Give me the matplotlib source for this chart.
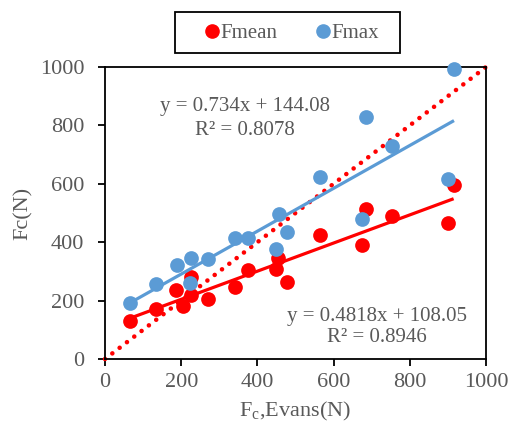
import matplotlib
matplotlib.use("Agg")
import matplotlib.pyplot as plt
import numpy as np
from matplotlib.lines import Line2D
from matplotlib.patches import Rectangle

# Data
evans_mean = [66, 134, 186, 204, 226, 226, 270, 340, 375, 448, 455, 478, 563, 675, 686, 752, 899, 915]
fmean = [131, 170, 236, 183, 280, 219, 205, 248, 305, 309, 345, 262, 426, 391, 515, 490, 467, 597]

evans_max = [66, 135, 188, 222, 226, 270, 340, 375, 448, 456, 478, 563, 675, 685, 752, 899, 916]
fmax = [193, 256, 322, 260, 345, 343, 416, 414, 376, 496, 435, 623, 480, 829, 728, 617, 992]

mean_slope, mean_icpt, mean_r2 = 0.4818, 108.05, 0.8946
max_slope, max_icpt, max_r2 = 0.734, 144.08, 0.8078
xticks = [0, 200, 400, 600, 800, 1000]
yticks = [0, 200, 400, 600, 800, 1000]

RED = "#FF0000"
BLUE = "#5B9BD5"
GRAY = "#595959"
plt.rcParams['font.family'] = ['Liberation Serif', 'DejaVu Serif']

fig = plt.figure(figsize=(5.16, 4.34), dpi=100)
ax = fig.add_axes([105/516, 1-359/434, (486-105)/516, (359-67)/434])

# 1:1 dotted line
ax.plot([0, 1000], [0, 1000], color=RED, linestyle=(0, (0.01, 2.0)), linewidth=3.3,
        dash_capstyle='round', zorder=2, clip_on=False)

ax.scatter(evans_mean, fmean, s=112, color=RED, zorder=3, linewidths=0, clip_on=False)
ax.scatter(evans_max, fmax, s=112, color=BLUE, zorder=3, linewidths=0, clip_on=False)

xm = np.array([min(evans_mean), max(evans_mean)])
ax.plot(xm, mean_slope*xm + mean_icpt, color=RED, linewidth=2.3, zorder=4, solid_capstyle='butt')
xx = np.array([min(evans_max), max(evans_max)])
ax.plot(xx, max_slope*xx + max_icpt, color=BLUE, linewidth=2.3, zorder=4, solid_capstyle='butt')

ax.set_xlim(0, 1000)
ax.set_ylim(0, 1000)
ax.set_xticks(xticks)
ax.set_yticks(yticks)
ax.tick_params(direction='out', length=5, width=1.3, colors='black', labelcolor=GRAY,
               labelsize=16)
ax.tick_params(axis='x', pad=5)
ax.tick_params(axis='y', pad=10)
for s in ax.spines.values():
    s.set_linewidth(1.3)
    s.set_color('black')

ax.set_xlabel(r"F$_{\mathregular{c}}$,Evans(N)", fontsize=16, color=GRAY, labelpad=6)
ax.set_ylabel("Fc(N)", fontsize=16, color=GRAY, labelpad=5)

tk = dict(transform=ax.transAxes, ha='center', va='center', fontsize=15, color=GRAY)
ax.text(0.367, 0.866, f"y = {max_slope}x + {max_icpt:.2f}", **tk)
ax.text(0.367, 0.784, f"R² = {max_r2:.4f}", **tk)
ax.text(0.714, 0.146, f"y = {mean_slope}x + {mean_icpt:.2f}", **tk)
ax.text(0.714, 0.072, f"R² = {mean_r2:.4f}", **tk)

# legend frame
fig.patches.append(Rectangle((175/516, 1-53/434), 225/516, 41/434, transform=fig.transFigure,
                             facecolor='white', edgecolor='black', linewidth=1.3))
handles = [Line2D([], [], marker='o', linestyle='', color=RED, markersize=9.5, label='Fmean'),
           Line2D([], [], marker='o', linestyle='', color=BLUE, markersize=9.5, label='Fmax')]
leg = fig.legend(handles=handles, loc='center', bbox_to_anchor=(292/516, 1-33/434), ncol=2,
                 frameon=False, fontsize=15,
                 handlelength=0.6, handletextpad=0.1, columnspacing=1.9, borderpad=0.3)
for t in leg.get_texts():
    t.set_color(GRAY)

fig.savefig("out.png", dpi=100)
